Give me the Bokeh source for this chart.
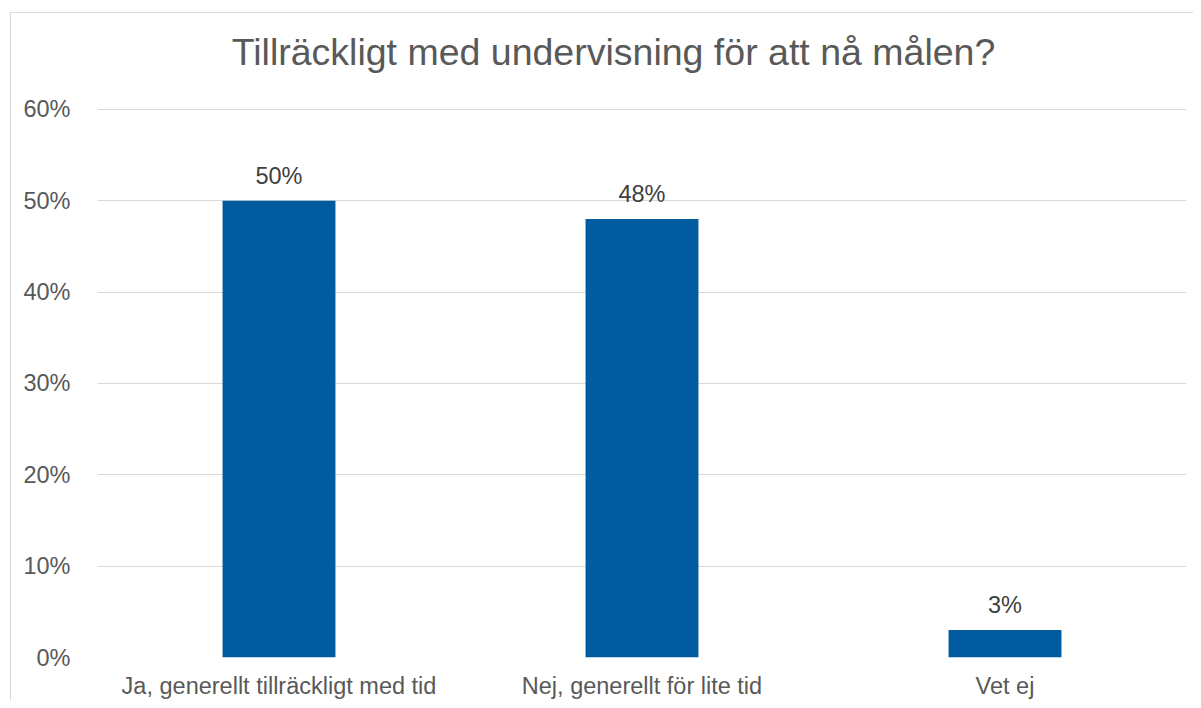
from bokeh.plotting import figure
from bokeh.models import FactorRange, Range1d, FixedTicker, PrintfTickFormatter, ColumnDataSource, LabelSet, Label
from bokeh.core.properties import value
from bokeh.embed import file_html
from bokeh.resources import INLINE

categories = ["Ja, generellt tillräckligt med tid", "Nej, generellt för lite tid", "Vet ej"]
values = [50, 48, 3]
value_labels = ["50%", "48%", "3%"]
y_ticks = [0, 10, 20, 30, 40, 50, 60]
title_text = "Tillräckligt med undervisning för att nå målen?"

FONT = "Liberation Sans"

# frame extends above the 60% line so that the title label fits inside it
PX_PER_UNIT = (657 - 108) / 60.0
Y_TOP = 60 + (108 - 22) / PX_PER_UNIT

src = ColumnDataSource(dict(cat=categories, val=values, lab=value_labels))

p = figure(
    x_range=FactorRange(*categories, range_padding=0),
    y_range=Range1d(0, Y_TOP),
    width=1183, height=688,
    output_backend="svg", toolbar_location=None,
    min_border_left=86, min_border_right=8, min_border_top=10, min_border_bottom=43,
)
p.title = None
p.margin = (12, 0, 0, 10)
p.styles = {"border-left": "1px solid #d9d9d9", "border-top": "1px solid #d9d9d9"}
p.outline_line_color = None
p.background_fill_color = "white"
p.border_fill_color = "white"

p.vbar(x="cat", top="val", width=0.311, source=src, fill_color="#005B9F", line_color=None)

labels = LabelSet(x="cat", y="val", text="lab", source=src, y_offset=17,
                  text_align="center", text_baseline="alphabetic",
                  text_font=value(FONT), text_font_size="23.5px", text_color="#404040")
p.add_layout(labels)

title = Label(x=516, x_units="screen", y=y_ticks[-1], y_units="data", y_offset=57, text=title_text,
              text_align="center", text_baseline="alphabetic",
              text_font=FONT, text_font_size="37.5px", text_color="#595959")
p.add_layout(title)

p.xgrid.grid_line_color = None
p.ygrid.grid_line_color = "#d9d9d9"
p.ygrid.grid_line_width = 1

p.yaxis.ticker = FixedTicker(ticks=y_ticks)
p.yaxis.formatter = PrintfTickFormatter(format="%d%%")
p.yaxis.axis_line_color = None
p.yaxis.major_tick_line_color = None
p.yaxis.minor_tick_line_color = None
p.yaxis.major_label_standoff = 21
p.yaxis.major_label_text_font = FONT
p.yaxis.major_label_text_font_size = "23.5px"
p.yaxis.major_label_text_color = "#595959"

p.xaxis.axis_line_color = None
p.xaxis.major_tick_line_color = None
p.xaxis.minor_tick_line_color = None
p.xaxis.major_label_standoff = 9
p.xaxis.major_label_text_font = FONT
p.xaxis.major_label_text_font_size = "23.5px"
p.xaxis.major_label_text_color = "#595959"

open("out.html", "w").write(file_html(p, INLINE))
